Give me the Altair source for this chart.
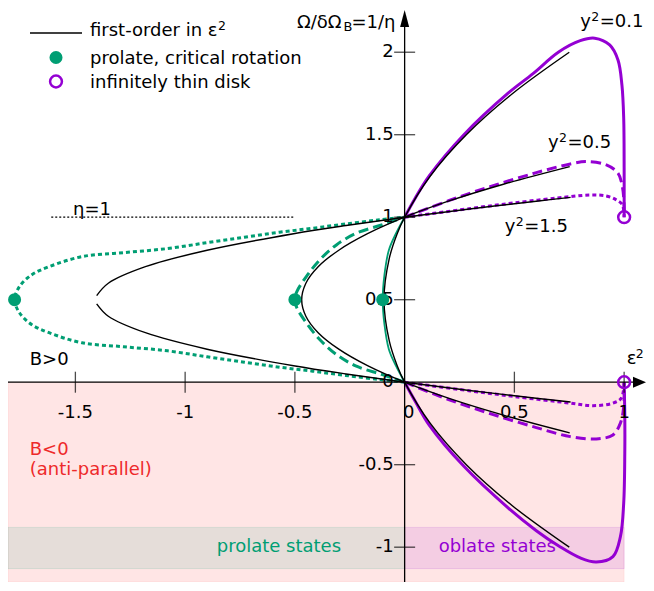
import altair as alt
import pandas as pd

FONT = "DejaVu Sans"
GREEN = "#009E73"
PURPLE = "#9400D3"
REDTXT = "#ee2a2a"

X_DOMAIN = [-1.807, 1.0996]
Y_DOMAIN = [-1.211, 2.268]
W, H = 638, 574

# ---- first-order curves (black) ----
fo01_x = [0.75, 0.492, 0.281, 0.117, 0.0, -0.034, -0.070, -0.094, -0.070, -0.034, 0.0, 0.117, 0.281, 0.492, 0.75]
fo01_y = [-1.0, -0.75, -0.5, -0.25, 0.0, 0.1, 0.25, 0.5, 0.75, 0.9, 1.0, 1.25, 1.5, 1.75, 2.0]
fo05_x = [0.752, 0.45, 0.206, 0.0, -0.169, -0.3, -0.394, -0.45, -0.469, -0.45, -0.394, -0.3, -0.169, 0.0, 0.206, 0.45, 0.752]
fo05_y = [-0.307, -0.2, -0.1, 0.0, 0.1, 0.2, 0.3, 0.4, 0.5, 0.6, 0.7, 0.8, 0.9, 1.0, 1.1, 1.2, 1.307]
fo15a_x = [0.756, 0.619, 0.295, 0.0, -0.267, -0.506, -0.9, -1.181, -1.35, -1.403]
fo15a_y = [-0.12, -0.1, -0.05, 0.0, 0.05, 0.1, 0.2, 0.3, 0.4, 0.475]
fo15b_x = [-1.403, -1.35, -1.181, -0.9, -0.506, -0.267, 0.0, 0.295, 0.619, 0.756]
fo15b_y = [0.525, 0.6, 0.7, 0.8, 0.9, 0.95, 1.0, 1.05, 1.1, 1.12]

# ---- prolate (green) ----
g01_x = [0.0, -0.04, -0.072, -0.092, -0.1, -0.092, -0.072, -0.04, 0.0]
g01_y = [0.0, 0.1, 0.2, 0.35, 0.5, 0.65, 0.8, 0.9, 1.0]
g05_x = [0.0, -0.105, -0.22, -0.311, -0.387, -0.448, -0.491, -0.501, -0.491, -0.448, -0.387, -0.311, -0.22, -0.105, 0.0]
g05_y = [0.0, 0.047, 0.097, 0.168, 0.259, 0.36, 0.451, 0.5, 0.549, 0.64, 0.741, 0.832, 0.903, 0.953, 1.0]
g15_x = [0.0, -0.114, -0.27, -0.42, -0.57, -0.73, -0.9, -1.08, -1.28, -1.47, -1.62, -1.70, -1.755, -1.777,
         -1.755, -1.70, -1.62, -1.47, -1.28, -1.08, -0.9, -0.73, -0.57, -0.42, -0.27, -0.114, 0.0]
g15_y = [0.0, 0.016, 0.041, 0.067, 0.091, 0.121, 0.154, 0.19, 0.215, 0.239, 0.30, 0.35, 0.421, 0.5,
         0.579, 0.65, 0.70, 0.761, 0.785, 0.81, 0.846, 0.879, 0.909, 0.933, 0.959, 0.984, 1.0]

# ---- oblate (purple) ----
p01u_x = [0.0, 0.048, 0.112, 0.27, 0.47, 0.585, 0.70, 0.80, 0.866, 0.934, 0.972, 0.99, 0.998, 1.0, 1.0]
p01u_y = [1.0, 1.115, 1.25, 1.5, 1.75, 1.87, 2.0, 2.07, 2.085, 2.044, 1.953, 1.8, 1.6, 1.3, 1.0]
p01l_x = [0.0, 0.05, 0.112, 0.27, 0.47, 0.60, 0.706, 0.80, 0.873, 0.949, 0.983, 0.998, 1.003, 1.003, 1.0]
p01l_y = [0.0, -0.12, -0.26, -0.51, -0.76, -0.9, -0.996, -1.065, -1.09, -1.057, -0.936, -0.733, -0.43, -0.2, 0.0]
p05u_x = [0.0, 0.2, 0.4, 0.6, 0.755, 0.828, 0.919, 0.972, 0.992, 1.0, 1.0]
p05u_y = [1.0, 1.10, 1.19, 1.27, 1.323, 1.337, 1.317, 1.267, 1.185, 1.064, 1.0]
p05l_x = [0.0, 0.2, 0.4, 0.6, 0.755, 0.873, 0.949, 0.983, 0.998, 1.0]
p05l_y = [0.0, -0.105, -0.195, -0.275, -0.33, -0.344, -0.32, -0.248, -0.148, 0.0]
p15u_x = [0.0, 0.3, 0.5, 0.755, 0.85, 0.919, 0.964, 0.992, 1.0]
p15u_y = [1.0, 1.053, 1.087, 1.125, 1.135, 1.129, 1.105, 1.075, 1.0]
p15l_x = [0.0, 0.3, 0.5, 0.755, 0.858, 0.949, 0.987, 1.0]
p15l_y = [0.0, -0.053, -0.087, -0.127, -0.142, -0.127, -0.097, 0.0]

dots_x = [-0.1, -0.5, -1.777]
dots_y = [0.5, 0.5, 0.5]
disk_x = [1.0, 1.0]
disk_y = [1.0, 0.0]

x_ticks = [-1.5, -1.0, -0.5, 0.5, 1.0]
x_labels = ["-1.5", "-1", "-0.5", "0.5", "1"]
y_ticks = [-1.0, -0.5, 0.5, 1.0, 1.5, 2.0]
y_labels = ["-1", "-0.5", "0.5", "1", "1.5", "2"]

# regions
neg_region = {"x": -1.807, "x2": 1.0, "y": 0.0, "y2": -1.211}
band_y = [-0.88, -1.13]
prolate_band_x = [-1.807, 0.0]
oblate_band_x = [0.0, 1.0]

eta_line_x = [-1.61, -0.50]
eta_line_y = [1.0, 1.0]

xs = alt.Scale(domain=X_DOMAIN, nice=False, zero=False)
ys = alt.Scale(domain=Y_DOMAIN, nice=False, zero=False)


def XQ(f="x"):
    return alt.X(f"{f}:Q", scale=xs, axis=None)


def YQ(f="y"):
    return alt.Y(f"{f}:Q", scale=ys, axis=None)


def line(xv, yv, color, width, dash=None):
    df = pd.DataFrame({"x": xv, "y": yv, "o": list(range(len(xv)))})
    kw = dict(color=color, strokeWidth=width, interpolate="catmull-rom")
    if dash:
        kw["strokeDash"] = dash
    return alt.Chart(df).mark_line(**kw).encode(x=XQ(), y=YQ(), order="o:Q")


def rect(x1, x2, y1, y2, color, fo, so):
    df = pd.DataFrame({"x": [x1], "x2": [x2], "y": [y1], "y2": [y2]})
    return alt.Chart(df).mark_rect(color=color, fillOpacity=fo, stroke=color,
                                   strokeOpacity=so, strokeWidth=1).encode(
        x=XQ(), x2="x2:Q", y=YQ(), y2="y2:Q")


def dtext(x, y, txt, color="black", size=18, align="left", baseline="alphabetic", dx=0, dy=0):
    df = pd.DataFrame({"x": [x], "y": [y], "t": [txt]})
    return alt.Chart(df).mark_text(font=FONT, fontSize=size, color=color, align=align,
                                   baseline=baseline, dx=dx, dy=dy).encode(
        x=XQ(), y=YQ(), text="t:N")


def sup_label(x, y, base, sup, rest, base_w, rest_dx):
    out = [dtext(x, y, base), dtext(x, y, sup, size=12.5, dx=base_w, dy=-6)]
    if rest:
        out.append(dtext(x, y, rest, dx=rest_dx))
    return out


one = pd.DataFrame({"a": [0]})


def ptext(px, py, txt, size=18, color="black", align="left", baseline="alphabetic"):
    return alt.Chart(one).mark_text(text=txt, font=FONT, fontSize=size, color=color,
                                    align=align, baseline=baseline).encode(
        x=alt.value(px), y=alt.value(py))


layers = []
# background regions
layers.append(rect(neg_region["x"], neg_region["x2"], neg_region["y"], neg_region["y2"], "red", 0.1, 0.06))
layers.append(rect(prolate_band_x[0], prolate_band_x[1], band_y[0], band_y[1], GREEN, 0.1, 0.12))
layers.append(rect(oblate_band_x[0], oblate_band_x[1], band_y[0], band_y[1], PURPLE, 0.1, 0.12))
layers.append(dtext(-0.856, -1.0, "prolate states", color=GREEN, baseline="middle"))
layers.append(dtext(0.155, -1.0, "oblate states", color=PURPLE, baseline="middle"))
layers.append(dtext(-1.708, -0.441, "B<0", color=REDTXT))
layers.append(dtext(-1.708, -0.562, "(anti-parallel)", color=REDTXT))
layers.append(dtext(-1.708, 0.105, "B>0"))

# eta = 1 line
layers.append(line(eta_line_x, eta_line_y, "black", 1.2, [2, 2]))
layers.append(dtext(-1.511, 1.014, "η=1"))

# colored exact curves
layers.append(line(g01_x, g01_y, GREEN, 1.8))
layers.append(line(g05_x, g05_y, GREEN, 3, [10, 5]))
layers.append(line(g15_x, g15_y, GREEN, 3, [4, 3]))
layers.append(line(p01u_x, p01u_y, PURPLE, 3))
layers.append(line(p01l_x, p01l_y, PURPLE, 3))
layers.append(line(p05u_x, p05u_y, PURPLE, 3, [10, 5]))
layers.append(line(p05l_x, p05l_y, PURPLE, 3, [10, 5]))
layers.append(line(p15u_x, p15u_y, PURPLE, 3, [4, 3]))
layers.append(line(p15l_x, p15l_y, PURPLE, 3, [4, 3]))

# first-order curves
layers.append(line(fo01_x, fo01_y, "black", 1.4))
layers.append(line(fo05_x, fo05_y, "black", 1.4))
layers.append(line(fo15a_x, fo15a_y, "black", 1.4))
layers.append(line(fo15b_x, fo15b_y, "black", 1.4))

# axes
zero = pd.DataFrame({"x": [0.0], "y": [0.0]})
layers.append(alt.Chart(zero).mark_rule(color="black", strokeWidth=1.3).encode(
    y=YQ(), x=alt.value(0), x2=alt.value(W - 12)))
layers.append(alt.Chart(zero).mark_rule(color="black", strokeWidth=1.3).encode(
    x=XQ(), y=alt.value(18), y2=alt.value(H)))
layers.append(alt.Chart(zero).mark_point(shape="M1,0L-1,-0.85L-1,0.85Z", filled=True, opacity=1,
                                         color="black", size=169).encode(
    y=YQ(), x=alt.value(W - 6.5)))
layers.append(alt.Chart(zero).mark_point(shape="M0,-1L0.53,1L-0.53,1Z", filled=True, opacity=1,
                                         color="black", size=289).encode(
    x=XQ(), y=alt.value(10.5)))

xt = pd.DataFrame({"x": x_ticks, "y": [0.0] * len(x_ticks), "t": x_labels})
yt = pd.DataFrame({"y": y_ticks, "x": [0.0] * len(y_ticks), "t": y_labels})
layers.append(alt.Chart(xt).mark_tick(orient="vertical", size=21, thickness=1.3, color="black").encode(
    x=XQ(), y=YQ()))
layers.append(alt.Chart(yt).mark_tick(orient="horizontal", size=21, thickness=1.3, color="black").encode(
    x=XQ(), y=YQ()))
layers.append(alt.Chart(xt).mark_text(font=FONT, fontSize=18, baseline="middle", align="center", dy=31).encode(
    x=XQ(), y=YQ(), text="t:N"))
layers.append(alt.Chart(yt).mark_text(font=FONT, fontSize=18, baseline="middle", align="right", dx=-11).encode(
    x=XQ(), y=YQ(), text="t:N"))
layers.append(dtext(0.0, 0.0, "0", align="center", baseline="middle", dx=4, dy=31))
layers.append(dtext(0.0, 0.0, "0", align="right", baseline="middle", dx=-11))

# markers
ddf = pd.DataFrame({"x": dots_x, "y": dots_y})
layers.append(alt.Chart(ddf).mark_point(shape="circle", filled=True, color=GREEN, opacity=1, size=170).encode(
    x=XQ(), y=YQ()))
cdf = pd.DataFrame({"x": disk_x, "y": disk_y})
layers.append(alt.Chart(cdf).mark_point(shape="circle", filled=False, color=PURPLE, opacity=1, size=140,
                                        strokeWidth=2.5).encode(x=XQ(), y=YQ()))

# labels
layers += sup_label(0.80, 2.152, "y", "2", "=0.1", 11, 19.5)
layers += sup_label(0.653, 1.418, "y", "2", "=0.5", 11, 19.5)
layers += sup_label(0.456, 0.913, "y", "2", "=1.5", 11, 19.5)
layers += sup_label(1.012, 0.11, "ε", "2", None, 9, 0)
layers.append(ptext(289, 20, "Ω/δΩ"))
layers.append(ptext(335.5, 23, "B", size=13))
layers.append(ptext(343.5, 20, "=1/η"))

# legend
layers.append(alt.Chart(one).mark_rule(color="black", strokeWidth=1.4).encode(
    x=alt.value(22), x2=alt.value(74), y=alt.value(25)))
layers.append(ptext(82, 28, "first-order in ε"))
layers.append(ptext(210, 21.5, "2", size=12.5))
layers.append(alt.Chart(one).mark_point(shape="circle", filled=True, color=GREEN, opacity=1, size=170).encode(
    x=alt.value(48), y=alt.value(49.5)))
layers.append(ptext(82, 56, "prolate, critical rotation"))
layers.append(alt.Chart(one).mark_point(shape="circle", filled=False, color=PURPLE, opacity=1, size=140,
                                        strokeWidth=2.5).encode(x=alt.value(48), y=alt.value(73.5)))
layers.append(ptext(82, 80, "infinitely thin disk"))

chart = alt.layer(*layers).properties(
    width=W, height=H, padding=0,
    autosize=alt.AutoSizeParams(type="none"),
).configure_view(stroke=None)

chart.save("out.html", embed_options={"renderer": "svg", "actions": False})
